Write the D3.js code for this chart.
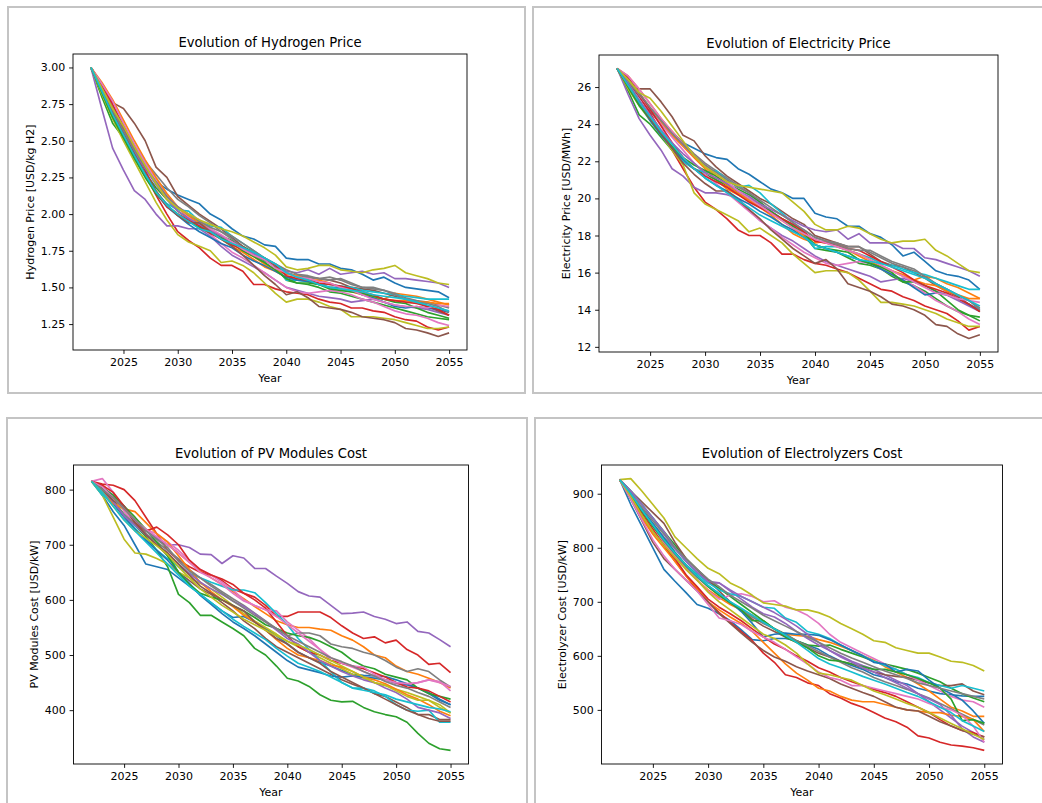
<!DOCTYPE html>
<html>
<head>
<meta charset="utf-8">
<script src="https://cdn.jsdelivr.net/npm/d3@7"></script>
<style>
  body { margin: 0; background: #fff; }
  svg { display: block; font-family: "DejaVu Sans", sans-serif; }
</style>
</head>
<body>
<svg id="chart" width="1042" height="803"></svg>
<script>
// x categories
const years = [2022, 2023, 2024, 2025, 2026, 2027, 2028, 2029, 2030, 2031, 2032, 2033, 2034, 2035, 2036, 2037, 2038,
  2039, 2040, 2041, 2042, 2043, 2044, 2045, 2046, 2047, 2048, 2049, 2050, 2051, 2052, 2053, 2054, 2055];
const yearTicks = [2025, 2030, 2035, 2040, 2045, 2050, 2055];

// tick labels on the y axes
const h2Ticks = [1.25, 1.50, 1.75, 2.00, 2.25, 2.50, 2.75, 3.00];
const elecTicks = [12, 14, 16, 18, 20, 22, 24, 26];
const pvTicks = [400, 500, 600, 700, 800];
const elyTicks = [500, 600, 700, 800, 900];

// Hydrogen price, USD/kg H2 (20 runs)
const h2Price = [
  [3.00,2.86,2.72,2.58,2.45,2.33,2.22,2.17,2.13,2.10,2.07,2.00,1.96,1.90,1.85,1.83,1.79,1.78,1.70,1.69,1.69,1.66,1.66,1.63,1.62,1.59,1.55,1.57,1.53,1.50,1.49,1.48,1.47,1.43],
  [3.00,2.88,2.74,2.60,2.46,2.33,2.22,2.12,2.04,1.98,1.93,1.88,1.83,1.78,1.74,1.69,1.64,1.61,1.57,1.57,1.55,1.52,1.50,1.49,1.47,1.45,1.43,1.42,1.46,1.45,1.44,1.42,1.40,1.38],
  [3.00,2.80,2.62,2.52,2.40,2.28,2.18,2.10,2.02,1.97,1.93,1.88,1.85,1.82,1.78,1.74,1.70,1.64,1.55,1.53,1.52,1.50,1.47,1.46,1.44,1.42,1.40,1.38,1.36,1.34,1.32,1.30,1.29,1.28],
  [3.00,2.86,2.72,2.57,2.42,2.27,2.13,2.00,1.88,1.82,1.77,1.70,1.65,1.65,1.61,1.52,1.52,1.49,1.47,1.46,1.45,1.42,1.40,1.39,1.36,1.36,1.34,1.33,1.30,1.28,1.27,1.23,1.21,1.23],
  [3.00,2.72,2.45,2.30,2.16,2.10,2.00,1.92,1.92,1.90,1.90,1.85,1.78,1.72,1.68,1.64,1.60,1.55,1.50,1.48,1.46,1.44,1.43,1.42,1.40,1.41,1.42,1.40,1.38,1.37,1.36,1.35,1.33,1.31],
  [3.00,2.88,2.76,2.72,2.62,2.50,2.32,2.25,2.12,2.06,2.00,1.95,1.90,1.84,1.78,1.73,1.69,1.65,1.60,1.58,1.57,1.56,1.55,1.53,1.50,1.49,1.48,1.46,1.44,1.42,1.40,1.37,1.34,1.31],
  [3.00,2.88,2.74,2.60,2.47,2.36,2.24,2.13,2.05,1.98,1.92,1.86,1.80,1.74,1.70,1.65,1.60,1.55,1.50,1.47,1.46,1.47,1.48,1.47,1.45,1.42,1.40,1.37,1.34,1.32,1.31,1.29,1.26,1.24],
  [3.00,2.87,2.73,2.60,2.47,2.36,2.27,2.18,2.10,2.05,1.99,1.94,1.88,1.83,1.77,1.72,1.68,1.65,1.60,1.58,1.57,1.56,1.57,1.55,1.52,1.50,1.49,1.48,1.46,1.43,1.41,1.40,1.38,1.36],
  [3.00,2.82,2.65,2.50,2.36,2.22,2.08,1.96,1.86,1.81,1.78,1.75,1.67,1.68,1.65,1.60,1.53,1.46,1.40,1.42,1.42,1.40,1.37,1.35,1.30,1.30,1.30,1.29,1.28,1.26,1.24,1.22,1.22,1.23],
  [3.00,2.86,2.70,2.55,2.42,2.27,2.15,2.07,2.03,2.02,1.95,1.92,1.91,1.85,1.80,1.75,1.70,1.65,1.55,1.55,1.54,1.52,1.52,1.51,1.50,1.48,1.47,1.46,1.45,1.44,1.43,1.42,1.42,1.42],
  [3.00,2.84,2.68,2.53,2.39,2.26,2.14,2.05,1.99,1.93,1.88,1.84,1.80,1.77,1.72,1.68,1.65,1.61,1.57,1.55,1.54,1.52,1.50,1.50,1.48,1.45,1.43,1.40,1.37,1.36,1.37,1.36,1.35,1.33],
  [3.00,2.90,2.78,2.64,2.50,2.37,2.25,2.14,2.05,1.99,1.94,1.90,1.85,1.80,1.75,1.71,1.66,1.62,1.59,1.58,1.55,1.55,1.53,1.50,1.49,1.46,1.44,1.42,1.41,1.41,1.40,1.40,1.39,1.39],
  [3.00,2.83,2.66,2.52,2.38,2.25,2.14,2.06,2.00,1.95,1.91,1.87,1.84,1.80,1.75,1.71,1.67,1.62,1.56,1.53,1.53,1.52,1.49,1.48,1.47,1.46,1.44,1.42,1.40,1.39,1.36,1.33,1.31,1.29],
  [3.00,2.88,2.75,2.60,2.44,2.30,2.15,2.05,2.00,1.96,1.92,1.87,1.83,1.79,1.76,1.73,1.70,1.65,1.58,1.56,1.55,1.53,1.52,1.51,1.49,1.47,1.45,1.42,1.41,1.40,1.39,1.37,1.35,1.31],
  [3.00,2.85,2.70,2.56,2.43,2.31,2.20,2.10,2.02,1.97,1.93,1.89,1.85,1.81,1.77,1.73,1.70,1.66,1.61,1.60,1.62,1.59,1.63,1.59,1.60,1.61,1.59,1.60,1.56,1.56,1.55,1.54,1.53,1.50],
  [3.00,2.85,2.69,2.55,2.41,2.28,2.16,2.06,1.99,1.94,1.94,1.88,1.83,1.78,1.72,1.65,1.58,1.52,1.45,1.47,1.43,1.37,1.36,1.35,1.33,1.30,1.29,1.28,1.26,1.22,1.21,1.19,1.165,1.19],
  [3.00,2.89,2.77,2.62,2.48,2.35,2.22,2.12,2.05,2.00,1.96,1.90,1.86,1.81,1.76,1.72,1.69,1.63,1.60,1.57,1.56,1.54,1.53,1.50,1.48,1.45,1.42,1.40,1.38,1.37,1.37,1.36,1.38,1.37],
  [3.00,2.86,2.71,2.57,2.44,2.32,2.22,2.12,2.05,2.00,1.95,1.91,1.88,1.85,1.80,1.75,1.70,1.66,1.62,1.59,1.58,1.56,1.55,1.56,1.53,1.50,1.50,1.48,1.45,1.42,1.40,1.39,1.37,1.33],
  [3.00,2.86,2.72,2.60,2.46,2.33,2.21,2.10,2.04,2.00,1.96,1.93,1.90,1.88,1.85,1.81,1.77,1.72,1.64,1.62,1.63,1.65,1.65,1.62,1.61,1.60,1.62,1.63,1.65,1.60,1.58,1.56,1.53,1.52],
  [3.00,2.84,2.68,2.54,2.40,2.27,2.15,2.06,2.00,1.95,1.90,1.88,1.83,1.80,1.77,1.74,1.70,1.66,1.60,1.57,1.55,1.52,1.50,1.49,1.48,1.47,1.45,1.44,1.43,1.42,1.40,1.38,1.36,1.34]
];

// Electricity price, USD/MWh
const elecPrice = [
  [27.0,26.3,25.5,24.7,24.0,23.4,23.0,22.7,22.4,22.2,22.1,21.6,21.3,20.9,20.5,20.3,20.0,20.0,19.2,19.0,18.9,18.5,18.5,18.1,17.9,17.5,16.9,17.1,16.6,16.1,15.9,15.8,15.6,15.1],
  [27.0,26.4,25.6,24.8,24.1,23.4,22.8,22.2,21.6,21.0,20.5,20.2,19.9,19.5,19.1,18.6,18.1,17.8,17.6,17.7,17.5,17.2,16.9,16.6,16.3,16.1,15.8,15.6,15.8,15.7,15.4,15.2,14.9,14.6],
  [27.0,25.8,24.5,24.0,23.3,22.6,22.0,21.6,21.3,21.0,20.7,20.3,20.0,19.7,19.3,18.9,18.5,18.0,17.3,17.2,17.1,16.8,16.5,16.4,16.2,15.8,15.5,15.3,15.0,14.6,14.2,13.9,13.7,13.6],
  [27.0,26.3,25.5,24.6,23.6,22.6,21.6,20.6,19.8,19.4,18.9,18.3,18.0,18.0,17.6,17.0,17.0,16.7,16.5,16.4,16.2,16.0,15.7,15.4,15.1,15.0,14.7,14.5,14.2,14.0,13.8,13.4,12.9,13.1],
  [27.0,25.6,24.3,23.4,22.6,21.6,21.2,20.6,20.3,20.3,20.2,20.0,19.4,18.8,18.4,18.0,17.7,17.3,16.9,16.6,16.4,16.2,16.0,15.8,15.5,15.6,15.7,15.5,15.3,15.0,14.8,14.5,14.2,13.9],
  [27.0,26.0,25.9,25.9,25.2,24.4,23.4,23.1,22.3,21.7,21.2,20.8,20.4,20.0,19.7,19.3,18.9,18.6,18.0,17.8,17.6,17.4,17.4,17.0,16.6,16.4,16.3,16.0,15.7,15.3,15.0,14.7,14.3,13.9],
  [27.0,26.4,25.6,24.8,24.0,23.3,22.6,21.9,21.3,20.8,20.3,19.8,19.3,18.8,18.4,17.9,17.5,17.1,16.8,16.5,16.4,16.5,16.6,16.5,16.2,15.9,15.6,15.3,14.9,14.5,14.2,13.9,13.5,13.2],
  [27.0,26.3,25.6,24.9,24.2,23.6,23.0,22.4,21.9,21.5,21.1,20.7,20.3,19.8,19.3,18.9,18.6,18.3,17.9,17.7,17.6,17.4,17.4,17.1,16.8,16.5,16.3,16.1,15.8,15.4,15.1,14.8,14.5,14.1],
  [27.0,25.9,25.0,24.2,23.4,22.6,21.8,20.3,19.7,19.4,19.1,18.8,18.2,18.4,18.0,17.6,17.0,16.5,16.0,16.1,16.1,16.0,15.6,15.0,14.4,14.4,14.3,14.2,14.0,13.8,13.5,13.3,13.1,13.1],
  [27.0,26.2,25.3,24.4,23.6,22.7,22.0,21.6,21.4,21.5,21.0,20.6,20.7,20.3,19.7,19.2,18.7,18.1,17.3,17.4,17.4,17.2,17.0,16.8,16.5,16.4,16.2,16.0,15.9,15.7,15.5,15.3,15.1,15.1],
  [27.0,26.1,25.1,24.2,23.4,22.7,22.1,21.6,21.1,20.7,20.4,20.0,19.7,19.3,19.0,18.6,18.3,17.9,17.5,17.3,17.1,16.9,16.7,16.5,16.2,15.9,15.6,15.2,14.8,14.9,14.8,14.6,14.3,14.0],
  [27.0,26.6,25.9,25.1,24.3,23.6,22.9,22.3,21.7,21.2,20.7,20.3,19.9,19.6,19.2,18.8,18.4,18.0,17.7,17.6,17.4,17.2,17.0,16.7,16.4,16.1,15.9,15.6,15.4,15.3,15.0,14.8,14.6,14.6],
  [27.0,26.0,25.0,24.3,23.5,22.8,22.2,21.8,21.5,21.2,20.8,20.5,20.2,19.8,19.3,18.9,18.5,18.1,17.5,17.3,17.2,17.1,16.7,16.5,16.3,16.0,15.5,15.5,15.3,15.0,14.5,14.0,13.7,13.4],
  [27.0,26.5,25.7,24.8,23.9,23.0,22.2,21.6,21.2,20.9,20.6,20.2,19.8,19.5,19.2,18.9,18.6,18.2,17.7,17.6,17.5,17.3,17.2,16.9,16.6,16.3,16.0,15.6,15.3,15.1,14.9,14.6,14.3,13.9],
  [27.0,26.2,25.3,24.5,23.7,23.0,22.4,21.9,21.4,21.1,20.8,20.4,20.1,19.7,19.4,19.1,18.8,18.5,18.3,18.2,18.3,17.8,18.1,17.6,17.6,17.6,17.3,17.3,16.8,16.7,16.5,16.3,16.1,15.8],
  [27.0,26.1,25.2,24.3,23.5,22.7,21.9,21.3,20.8,20.4,20.4,19.9,19.4,18.9,18.3,17.8,17.3,16.9,16.5,16.7,16.2,15.4,15.2,15.0,14.7,14.3,14.2,14.0,13.7,13.2,13.1,12.7,12.45,12.65],
  [27.0,26.6,25.9,25.1,24.3,23.6,22.9,22.3,21.8,21.3,20.9,20.4,20.0,19.6,19.2,18.8,18.4,18.1,17.8,17.6,17.4,17.2,17.0,16.7,16.4,16.1,15.8,15.5,15.2,14.9,14.8,14.6,14.5,14.4],
  [27.0,26.4,25.7,24.9,24.2,23.5,22.9,22.3,21.8,21.4,21.0,20.6,20.3,19.9,19.5,19.1,18.7,18.3,17.9,17.7,17.5,17.3,17.2,17.2,16.9,16.6,16.4,16.2,15.8,15.4,15.1,14.8,14.5,14.0],
  [27.0,26.4,25.7,25.4,24.7,23.9,23.1,22.3,21.7,21.3,20.9,20.7,20.6,20.5,20.4,20.3,19.8,19.3,18.6,18.3,18.3,18.5,18.4,18.1,17.8,17.6,17.7,17.7,17.8,17.2,16.9,16.5,16.1,16.0],
  [27.0,26.1,25.2,24.4,23.6,22.9,22.2,21.6,21.1,20.7,20.3,19.9,19.5,19.1,18.8,18.5,18.2,17.9,17.5,17.3,17.1,16.9,16.7,16.6,16.5,16.3,16.1,15.9,15.7,15.4,15.1,14.8,14.5,14.2]
];

// PV modules cost, USD/kW
const pvCost = [
  [815,790,760,735,700,665,660,655,640,625,610,595,580,568,570,560,548,535,520,505,495,487,480,472,465,463,462,461,455,448,440,432,420,410],
  [815,800,780,765,745,728,712,700,685,668,653,640,628,615,602,588,575,562,555,550,550,547,545,535,527,515,500,495,480,470,465,458,450,440],
  [815,800,780,755,735,715,690,660,610,595,572,572,560,548,535,512,500,480,458,453,443,428,418,415,416,405,397,392,388,378,358,340,330,327],
  [815,810,808,800,780,750,720,690,672,660,650,645,635,620,612,605,590,570,570,578,578,578,568,553,540,530,533,522,527,510,500,483,485,468],
  [815,805,790,765,745,728,712,700,700,695,683,682,666,680,676,657,657,643,630,615,607,605,590,575,576,578,570,565,557,560,543,540,528,515],
  [815,805,785,770,740,720,700,680,650,635,620,610,595,580,562,548,530,515,505,495,485,475,465,455,447,440,430,425,415,405,392,392,383,383],
  [815,820,795,760,740,728,720,705,690,672,655,645,632,618,600,590,582,580,560,545,530,510,490,485,478,470,462,455,448,445,450,455,452,435],
  [815,800,778,755,738,720,705,690,675,655,640,628,615,602,590,576,562,548,535,540,540,535,520,515,512,505,500,490,478,470,475,470,455,442],
  [815,790,750,710,685,683,675,665,650,640,630,620,605,590,575,562,550,538,525,515,505,495,485,475,465,458,450,445,438,432,425,418,405,395],
  [815,790,775,752,730,710,690,675,660,648,640,632,625,618,618,613,595,575,555,530,510,490,470,450,440,440,435,425,410,400,398,400,378,378],
  [815,795,775,750,728,708,690,672,650,630,608,592,575,560,548,535,520,505,490,478,473,468,462,460,462,460,458,455,450,446,440,430,418,410],
  [815,800,775,765,760,740,720,705,680,655,632,615,600,588,572,560,545,528,512,500,495,490,482,478,470,460,455,448,438,428,420,410,398,390],
  [815,803,790,770,750,728,705,680,650,628,612,605,600,590,580,568,555,548,540,535,532,525,515,505,490,480,475,465,460,455,440,430,425,420],
  [815,808,795,770,740,725,732,718,700,672,655,645,638,628,612,600,585,560,535,515,505,500,490,485,480,475,468,460,450,442,440,435,425,415],
  [815,800,778,752,735,718,700,685,665,648,632,620,610,598,588,575,560,545,530,520,505,490,480,470,462,455,450,440,432,420,405,400,395,385],
  [815,800,780,770,740,718,700,685,665,645,625,612,600,590,580,560,545,530,520,505,495,485,470,460,450,440,430,420,410,400,392,385,380,380],
  [815,805,785,765,745,728,715,700,685,668,650,640,628,612,598,590,582,570,555,540,525,510,495,485,480,478,465,455,450,448,450,455,450,443],
  [815,800,785,765,745,725,710,695,670,652,640,625,612,598,585,572,560,548,535,525,515,505,495,488,480,470,462,452,445,440,432,425,415,405],
  [815,795,770,745,725,712,698,682,660,640,620,605,590,578,565,555,545,535,525,518,510,500,490,480,470,460,450,445,435,425,418,418,410,395],
  [815,795,770,745,725,705,685,665,645,625,610,595,580,565,552,540,528,512,498,485,478,470,460,450,440,436,432,428,420,415,410,405,402,397]
];

// Electrolyzer cost, USD/kW
const elyCost = [
  [926,880,840,800,760,738,717,695,688,678,665,648,630,628,632,632,628,620,612,600,590,582,575,565,560,552,548,540,535,530,528,526,525,525],
  [926,900,870,842,815,790,760,740,722,708,695,685,675,662,650,640,638,636,630,625,618,610,600,592,580,570,560,548,535,520,505,498,488,488],
  [926,905,880,855,830,805,780,760,740,725,710,695,680,665,650,640,628,620,618,620,612,605,598,590,585,580,575,568,560,552,540,530,522,515],
  [926,895,865,835,805,775,748,722,700,680,662,645,628,605,588,565,560,550,545,530,522,512,505,495,485,478,468,452,448,440,435,433,430,425],
  [926,900,870,845,820,798,775,755,735,735,720,705,690,678,672,660,645,632,620,610,600,590,582,575,565,555,545,530,515,500,485,470,458,445],
  [926,905,885,865,845,810,780,760,740,720,700,685,668,655,645,635,625,615,605,598,590,585,578,570,565,562,560,555,550,545,545,548,535,528],
  [926,900,870,840,810,785,762,740,720,705,712,715,710,700,702,690,685,675,660,640,625,615,605,595,585,575,565,555,545,535,525,518,515,505],
  [926,898,868,840,812,788,765,745,728,712,698,685,672,660,650,640,628,618,608,598,588,578,570,560,552,545,538,530,522,512,502,492,482,472],
  [926,928,905,880,855,820,800,780,762,752,735,725,712,698,695,692,685,685,680,672,660,650,640,628,625,615,610,605,605,598,590,588,582,572],
  [926,905,880,855,828,800,775,752,735,722,715,710,700,690,688,670,662,645,640,632,620,610,600,590,582,575,565,560,550,545,540,545,540,535],
  [926,900,872,845,818,792,768,748,730,715,700,682,660,635,640,642,640,640,638,630,620,610,600,588,585,570,575,572,555,540,530,518,498,475],
  [926,890,855,825,800,775,748,725,700,685,672,660,645,625,605,585,568,555,540,535,525,518,515,515,510,505,500,498,495,495,490,488,482,460],
  [926,898,868,840,815,790,768,748,728,712,698,685,665,665,650,635,625,615,600,592,590,585,580,575,575,570,565,558,550,540,520,480,482,475],
  [926,895,860,830,805,780,750,728,705,690,678,665,650,635,622,612,600,590,578,570,560,552,545,538,532,525,515,505,495,482,470,462,458,450],
  [926,905,880,855,830,800,775,755,738,735,722,710,700,690,680,668,655,640,625,610,598,588,578,570,560,550,540,530,520,510,490,465,450,440],
  [926,890,850,810,780,760,740,720,700,678,660,642,625,610,598,590,580,572,565,558,548,540,532,525,515,505,500,498,488,478,470,462,455,450],
  [926,890,852,815,785,760,740,720,695,670,665,658,645,635,625,612,598,585,570,560,555,545,545,540,535,530,525,520,512,505,500,490,470,440],
  [926,900,875,850,825,800,780,760,742,728,712,700,688,675,665,655,645,635,625,615,605,596,588,580,572,565,558,550,545,540,535,530,525,520],
  [926,895,860,830,805,782,760,740,718,700,685,670,655,640,632,620,605,585,568,565,560,555,545,535,528,520,512,505,495,485,475,465,455,445],
  [926,900,870,842,815,790,768,748,730,715,700,688,675,662,650,638,625,610,595,585,578,570,562,555,548,540,532,525,515,505,495,480,470,460]
];

// matplotlib tab10
const colors = d3.schemeCategory10;

const panels = [
  { title: 'Evolution of Hydrogen Price', ylabel: 'Hydrogen Price [USD/kg H2]', series: h2Price, ticks: h2Ticks,
    fmt: d3.format('.2f'), frame: [8, 7, 517, 386], plot: [73, 54, 467, 350] },
  { title: 'Evolution of Electricity Price', ylabel: 'Electricity Price [USD/MWh]', series: elecPrice, ticks: elecTicks,
    fmt: d3.format('d'), frame: [533, 7, 530, 386], plot: [599, 55, 998, 352] },
  { title: 'Evolution of PV Modules Cost', ylabel: 'PV Modules Cost [USD/kW]', series: pvCost, ticks: pvTicks,
    fmt: d3.format('d'), frame: [7, 418, 520, 400], plot: [73.5, 465, 468.5, 764] },
  { title: 'Evolution of Electrolyzers Cost', ylabel: 'Electrolyzer Cost [USD/kW]', series: elyCost, ticks: elyTicks,
    fmt: d3.format('d'), frame: [535, 418, 530, 400], plot: [601.5, 465, 1002.5, 764] }
];

const svg = d3.select('#chart');
svg.append('rect').attr('width', 1042).attr('height', 803).attr('fill', '#fff');

const tickLen = 3.9, tickPad = 3.9, fontSize = 11;

panels.forEach(function(p) {
  // notebook output border
  svg.append('rect')
    .attr('x', p.frame[0]).attr('y', p.frame[1])
    .attr('width', p.frame[2]).attr('height', p.frame[3])
    .attr('fill', 'none').attr('stroke', '#c4c4c4').attr('stroke-width', 2);

  const [left, top, right, bottom] = p.plot;

  // matplotlib style 5% margins
  const xMin = d3.min(years), xMax = d3.max(years);
  const xPad = (xMax - xMin) * 0.05;
  const x = d3.scaleLinear().domain([xMin - xPad, xMax + xPad]).range([left, right]);

  const yMin = d3.min(p.series, s => d3.min(s)), yMax = d3.max(p.series, s => d3.max(s));
  const yPad = (yMax - yMin) * 0.05;
  const y = d3.scaleLinear().domain([yMin - yPad, yMax + yPad]).range([bottom, top]);

  const line = d3.line()
    .x((d, i) => x(years[i]))
    .y(d => y(d));

  const g = svg.append('g');
  g.selectAll('path.run')
    .data(p.series)
    .enter().append('path')
      .attr('class', 'run')
      .attr('d', line)
      .attr('fill', 'none')
      .attr('stroke', (d, i) => colors[i % 10])
      .attr('stroke-width', 1.65)
      .attr('stroke-linejoin', 'round');

  // axes frame
  svg.append('rect')
    .attr('x', left).attr('y', top)
    .attr('width', right - left).attr('height', bottom - top)
    .attr('fill', 'none').attr('stroke', '#000').attr('stroke-width', 0.9);

  const xAxis = svg.append('g')
    .attr('transform', 'translate(0,' + bottom + ')')
    .call(d3.axisBottom(x).tickValues(yearTicks).tickFormat(d3.format('d'))
      .tickSize(tickLen).tickPadding(tickPad));
  const yAxis = svg.append('g')
    .attr('transform', 'translate(' + left + ',0)')
    .call(d3.axisLeft(y).tickValues(p.ticks).tickFormat(p.fmt)
      .tickSize(tickLen).tickPadding(tickPad));

  [xAxis, yAxis].forEach(function(a) {
    a.select('.domain').remove();
    a.attr('font-family', '"DejaVu Sans", sans-serif').attr('font-size', fontSize).attr('color', '#000');
    a.selectAll('line').attr('stroke-width', 0.9);
  });

  // title
  svg.append('text')
    .attr('x', (left + right) / 2).attr('y', top - 6.6)
    .attr('text-anchor', 'middle')
    .attr('font-size', 13.2)
    .text(p.title);

  // x label
  svg.append('text')
    .attr('x', (left + right) / 2).attr('y', bottom + 32)
    .attr('text-anchor', 'middle')
    .attr('font-size', fontSize)
    .text('Year');

  // y label sits left of the widest tick label
  let maxW = 0;
  yAxis.selectAll('text').each(function() { maxW = Math.max(maxW, this.getComputedTextLength()); });
  const labelX = left - tickLen - tickPad - maxW - 4.4 - 2.6;
  svg.append('text')
    .attr('transform', 'translate(' + labelX + ',' + (top + bottom) / 2 + ') rotate(-90)')
    .attr('text-anchor', 'middle')
    .attr('font-size', fontSize)
    .text(p.ylabel);
});
</script>
</body>
</html>
